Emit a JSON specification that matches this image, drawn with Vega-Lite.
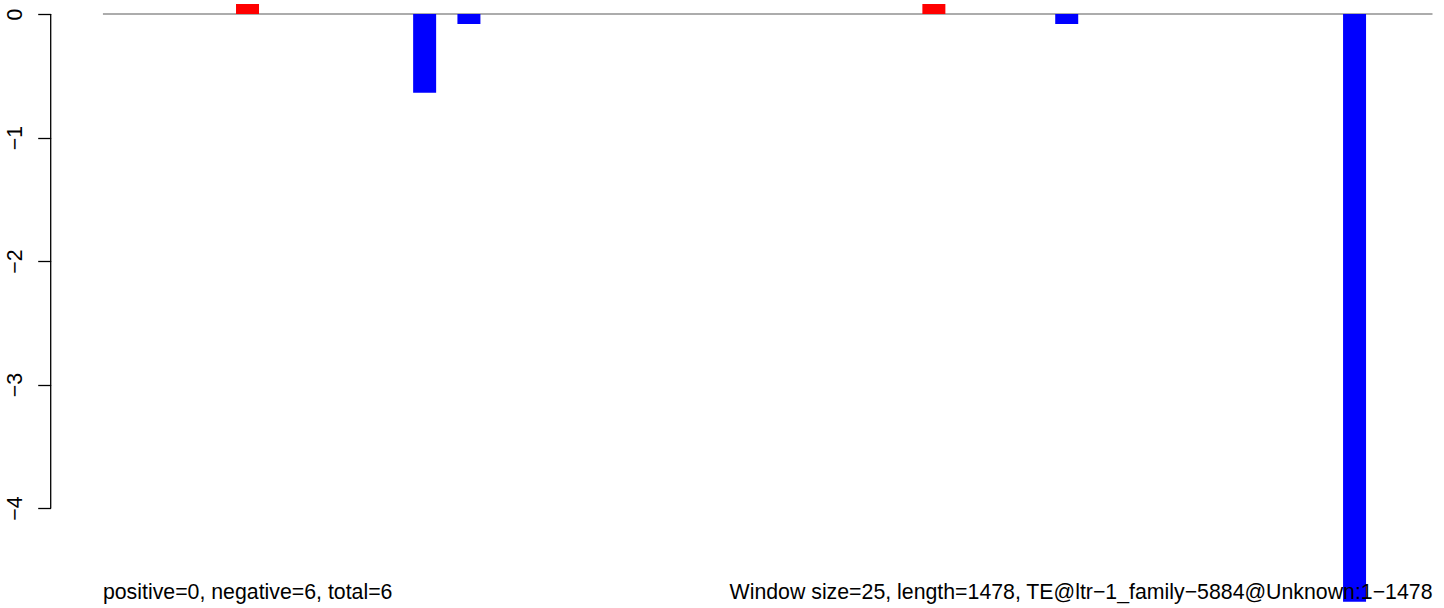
{
  "$schema": "https://vega.github.io/schema/vega-lite/v6.json",
  "autosize": "none",
  "padding": 0,
  "width": 1444,
  "height": 608,
  "background": "white",
  "config": {"view": {"stroke": null}, "font": "Liberation Sans"},
  "data": {
    "values": [
      {"window": 7, "value": 0.081},
      {"window": 15, "value": -0.637},
      {"window": 17, "value": -0.081},
      {"window": 38, "value": 0.081},
      {"window": 44, "value": -0.081},
      {"window": 57, "value": -4.76}
    ]
  },
  "layer": [
    {
      "transform": [{"aggregate": [{"op": "count", "as": "n"}]}],
      "mark": {"type": "rule", "color": "#909090", "strokeWidth": 1.4},
      "encoding": {
        "x": {"datum": 0.47, "type": "quantitative", "axis": null},
        "x2": {"datum": 60.52},
        "y": {"datum": 0, "type": "quantitative", "axis": {"offset": -50.7, "domain": false, "grid": false, "title": null, "values": [0, -1, -2, -3, -4], "tickSize": 13, "tickColor": "black", "tickWidth": 1.3, "labelAngle": 270, "labelAlign": "center", "labelBaseline": "alphabetic", "labelPadding": 16.5, "labelFontSize": 21.3, "labelFont": "Liberation Sans", "labelColor": "black", "labelOverlap": false, "labelFlush": false}}
      }
    },
    {
      "transform": [{"aggregate": [{"op": "count", "as": "n"}]}],
      "mark": {"type": "rule", "color": "black", "strokeWidth": 1.3},
      "encoding": {
        "x": {"datum": -1.889, "type": "quantitative", "axis": null},
        "y": {"datum": 0, "type": "quantitative", "axis": {"offset": -50.7, "domain": false, "grid": false, "title": null, "values": [0, -1, -2, -3, -4], "tickSize": 13, "tickColor": "black", "tickWidth": 1.3, "labelAngle": 270, "labelAlign": "center", "labelBaseline": "alphabetic", "labelPadding": 16.5, "labelFontSize": 21.3, "labelFont": "Liberation Sans", "labelColor": "black", "labelOverlap": false, "labelFlush": false}},
        "y2": {"datum": -4}
      }
    },
    {
      "mark": {"type": "bar", "width": 23, "strokeWidth": 0},
      "encoding": {
        "x": {"field": "window", "type": "quantitative", "scale": {"domain": [-4.179, 61.04], "nice": false, "zero": false, "padding": 0}, "axis": null},
        "y": {
          "field": "value",
          "type": "quantitative",
          "scale": {"domain": [-4.8097, 0.1134], "nice": false, "zero": false, "padding": 0},
          "axis": {"offset": -50.7, "domain": false, "grid": false, "title": null, "values": [0, -1, -2, -3, -4], "tickSize": 13, "tickColor": "black", "tickWidth": 1.3, "labelAngle": 270, "labelAlign": "center", "labelBaseline": "alphabetic", "labelPadding": 16.5, "labelFontSize": 21.3, "labelFont": "Liberation Sans", "labelColor": "black", "labelOverlap": false, "labelFlush": false}
        },
        "y2": {"datum": 0},
        "color": {"condition": {"test": "datum.value > 0", "value": "#ff0000"}, "value": "#0000ff"}
      }
    },
    {
      "transform": [{"aggregate": [{"op": "count", "as": "n"}]}],
      "mark": {"type": "text", "align": "left", "baseline": "alphabetic", "fontSize": 21.3, "font": "Liberation Sans", "color": "black", "text": "positive=0, negative=6, total=6"},
      "encoding": {
        "x": {"datum": 0.47, "type": "quantitative", "axis": null},
        "y": {"datum": -4.737, "type": "quantitative", "axis": {"offset": -50.7, "domain": false, "grid": false, "title": null, "values": [0, -1, -2, -3, -4], "tickSize": 13, "tickColor": "black", "tickWidth": 1.3, "labelAngle": 270, "labelAlign": "center", "labelBaseline": "alphabetic", "labelPadding": 16.5, "labelFontSize": 21.3, "labelFont": "Liberation Sans", "labelColor": "black", "labelOverlap": false, "labelFlush": false}}
      }
    },
    {
      "transform": [{"aggregate": [{"op": "count", "as": "n"}]}],
      "mark": {"type": "text", "align": "right", "baseline": "alphabetic", "fontSize": 21.3, "font": "Liberation Sans", "color": "black", "text": "Window size=25, length=1478, TE@ltr−1_family−5884@Unknown:1−1478"},
      "encoding": {
        "x": {"datum": 60.52, "type": "quantitative", "axis": null},
        "y": {"datum": -4.737, "type": "quantitative", "axis": {"offset": -50.7, "domain": false, "grid": false, "title": null, "values": [0, -1, -2, -3, -4], "tickSize": 13, "tickColor": "black", "tickWidth": 1.3, "labelAngle": 270, "labelAlign": "center", "labelBaseline": "alphabetic", "labelPadding": 16.5, "labelFontSize": 21.3, "labelFont": "Liberation Sans", "labelColor": "black", "labelOverlap": false, "labelFlush": false}}
      }
    }
  ]
}
